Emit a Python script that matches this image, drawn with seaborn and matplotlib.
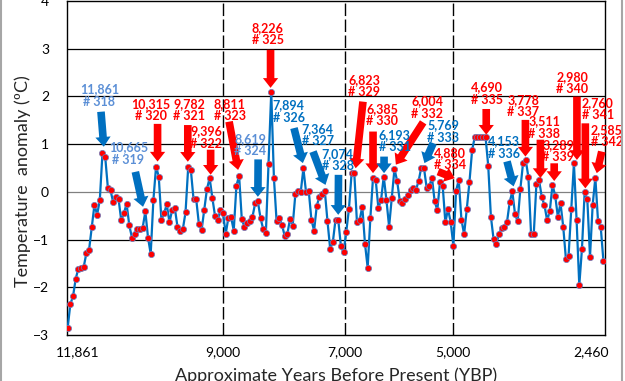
import matplotlib
matplotlib.use("Agg")
import matplotlib.pyplot as plt
from matplotlib.lines import Line2D
from matplotlib.transforms import offset_copy
import seaborn as sns
import pandas as pd

# anomaly values, one per sample, oldest first
anomaly = [
    -2.85, -2.35, -2.19, -1.82, -1.61, -1.59, -1.57, -1.28, -1.21, -0.73,
    -0.27, -0.48, -0.17, 0.82, 0.74, 0.09, 0.03, -0.22, -0.11, -0.15,
    -0.60, -0.45, -0.25, -0.70, -0.96, -0.89, -0.78, -0.77, -0.75, -0.41,
    -0.96, -1.30, -0.17, 0.53,
    0.32, -0.59, -0.45, -0.26, -0.64, -0.38, -0.34, -0.73, -0.83, -0.78,
    -0.43, 0.52, 0.45, -0.16, -0.16, -0.68, -0.80, -0.37, 0.06, 0.29,
    -0.12, -0.50, -0.59, -0.39, -0.45, -0.88, -0.54, -0.53, -0.81, 0.13,
    0.34, -0.57, -0.73,
    -0.66, -0.62, -0.52, -0.24, -0.20, -0.55, -0.78, -0.86, 0.59, 2.09,
    0.29, -0.62, -0.55, -0.69, -0.92, -0.89, -0.57, -0.71, -0.05, 0.02,
    -0.01, 0.49, -0.01, 0.02, -0.59, -0.81, -0.29, -0.10, -0.05, 0.02,
    -0.62, -1.19, -1.05, -0.58, -0.58, -1.13, -1.27, -0.84, -0.36, 0.39,
    0.39, -0.64, -0.59, -0.31, -1.09, -1.59, -0.55, 0.30, 0.25, -0.34,
    -0.17, 0.32, -0.17, -0.73, -0.12, 0.48, 0.23, -0.19, -0.24, -0.15,
    -0.06, 0.03, 0.08, 0.04,
    0.22, 0.51, 0.51, 0.09, 0.12, 0.30, -0.20, -0.38, 0.20, 0.13,
    -0.64, -0.36, -0.64, -1.13, 0.02, 0.25, -0.58, -0.89, -0.36, 0.21,
    0.88, 1.15, 1.15, 1.15, 1.15, 1.15, 0.55, -0.52, -0.99, -1.09,
    -0.89, -0.76, -0.74, -0.64,
    -0.22, 0.01, -0.46, -0.62, 0.06, 0.60, 0.67, 0.31, -0.89, -0.89,
    0.17, 0.24, -0.11, -0.28, -0.60, -0.40, 0.15, -0.08, -0.52, -0.24,
    -0.73, -1.40, -1.34, -0.36, 0.60, -0.60, -1.96, -1.19, -0.01, -0.16,
    -1.36, -0.27, 0.30, -0.62, -0.73, -1.44,
]

# x axis labels (category positions) and dashed dividers
tick_pos = [3.8, 58.1, 103.6, 143.9, 195.3]
tick_labels = ["11,861", "9,000", "7,000", "5,000", "2,460"]
divider_pos = [58.1, 103.6, 143.9]

# labelled samples
event_ids = list(range(318, 343))
event_ages = ["11,861", "10,665", "10,315", "9,782", "9,396", "8,811", "8,619",
              "8,226", "7,894", "7,364", "7,074", "6,823", "6,385", "6,193",
              "6,004", "5,769", "4,880", "4,690", "4,153", "3,778", "3,511",
              "3,289", "2,980", "2,760", "2,585"]
event_idx = [13, 29, 33, 45, 53, 64, 71, 76, 88, 96, 101, 107, 114, 118,
             122, 133, 146, 156, 166, 171, 176, 181, 189, 193, 197]
event_kind = ["lb", "lb", "r", "r", "r", "r", "lb", "r", "b", "b", "b", "r",
              "r", "b", "r", "b", "r", "r", "b", "r", "r", "r", "r", "r", "r"]

# layout: pixel offsets from the marked point (text centre, arrow tail, arrow tip)
text_off = [(-3, 57), (-17, 57.6), (-5, 56.7), (1, 57), (-3.3, 40.3),
            (-9.3, 65.7), (-7.7, 56.3), (-3.7, 58.3), (-14.7, 56.7), (-7.3, 56),
            (-0.7, 59.7), (9.7, 87.3), (9.3, 62.7), (11, 35.7), (32.7, 61.3),
            (19, 35.7), (-9, 21), (1, 43.3), (-8, 43.7), (-2.3, 54),
            (5.3, 52.7), (5.7, 33.7), (-1.7, 80.3), (13, 83.3), (11.4, 41.7)]
tail_off = [(-1.5, 41), (-10, 39.6), (1.5, 42.7), (-0.4, 42), (1, 28.3),
            (-10, 54), (0.3, 42), (-0.7, 42.3), (-9.4, 40.4), (-11.8, 39.3),
            (0.3, 44.7), (8.7, 71.6), (0, 46), (0.3, 20), (28.7, 46.6),
            (9.3, 24.4), (-20.7, 8.3), (0.7, 28), (-5.3, 30), (-0.3, 40),
            (1.3, 40.7), (1.7, 21.4), (3, 66.6), (0.7, 69), (6.4, 26)]
tip_off = [(1.3, 6), (-2.3, 4.6), (1.5, 5), (-0.4, 5.3), (1, 3.3),
           (-1, 5.7), (0, 4.6), (-0.7, 4.3), (-0.5, 5.4), (0.7, 6),
           (0, 4.7), (1.4, 5), (0, 4.4), (0.3, 3.4), (1.4, 4.3),
           (0.5, 4.4), (-4, 1.7), (0.7, 2.3), (1.3, 5), (-0.3, 3.3),
           (1.3, 2.4), (1.7, 3.7), (3, 3.3), (0.7, 4), (1.4, 4.4)]

RED = "#FF0000"
BLUE = "#0070C0"
LIGHT_BLUE = "#5B8FD6"
text_col = {"r": RED, "b": BLUE, "lb": LIGHT_BLUE}
arrow_col = {"r": RED, "b": BLUE, "lb": BLUE}

df = pd.DataFrame({"sample": range(len(anomaly)), "anomaly": anomaly})

sns.set_style("white")
plt.rcParams["font.family"] = ["Lato", "DejaVu Sans"]

fig = plt.figure(figsize=(6.25, 3.81), dpi=100)
ax = fig.add_axes([0.1072, 0.1207, 0.8608, 0.8767])

sns.lineplot(data=df, x="sample", y="anomaly", ax=ax, color=BLUE, linewidth=1.6,
             marker="o", markersize=4.5, markerfacecolor=RED,
             markeredgecolor="#6A7FC0", markeredgewidth=0.5, zorder=3)

ax.set_xlim(-0.25, len(anomaly) - 0.4)
ax.set_ylim(-3, 4)
ax.set_yticks(range(-3, 5))
ax.set_xticks(tick_pos)
ax.set_xticklabels(tick_labels)
ax.tick_params(axis="both", length=0, labelsize=10, colors="black")
ax.tick_params(axis="y", pad=13)
ax.tick_params(axis="x", pad=8)
ax.set_xlabel("")
ax.set_ylabel("")

for yv in range(-2, 4):
    ax.axhline(yv, color="#808080" if yv == 0 else "black", lw=0.9, zorder=1)
for xv in divider_pos:
    ax.axvline(xv, color="black", lw=1.0, ls=(0, (9, 2.5)), zorder=2)

for s in ax.spines.values():
    s.set_color("black")
    s.set_linewidth(1.0)

for k in range(len(event_ids)):
    i = event_idx[k]
    v = anomaly[i]
    kind = event_kind[k]
    ax.annotate(f"{event_ages[k]}\n# {event_ids[k]}", xy=(i, v),
                xytext=text_off[k], textcoords="offset pixels",
                ha="center", va="center", fontsize=9, fontweight="bold",
                linespacing=1.05, color=text_col[kind], zorder=5)
    tip = offset_copy(ax.transData, fig=fig, x=tip_off[k][0], y=tip_off[k][1], units="dots")
    ax.annotate("", xy=(i, v), xycoords=tip,
                xytext=(tail_off[k][0] - tip_off[k][0], tail_off[k][1] - tip_off[k][1]),
                textcoords="offset pixels",
                arrowprops=dict(width=5.5, headwidth=11, headlength=7,
                                facecolor=arrow_col[kind], edgecolor="none", shrink=0),
                zorder=4)

fig.text(0.037, 0.525, "Temperature  anomaly (ºC)", rotation=90, ha="center",
         va="center", fontsize=13)
fig.text(0.5376, 0.0, "Approximate Years Before Present (YBP)", ha="center",
         va="baseline", fontsize=13)

# chart-area border (left and right edges visible)
fig.add_artist(Line2D([0.002, 0.002], [0, 1], transform=fig.transFigure, color="#A6A6A6", lw=1.5))
fig.add_artist(Line2D([0.9955, 0.9955], [0, 1], transform=fig.transFigure, color="#A6A6A6", lw=1.5))

fig.savefig("out.png", dpi=100)
